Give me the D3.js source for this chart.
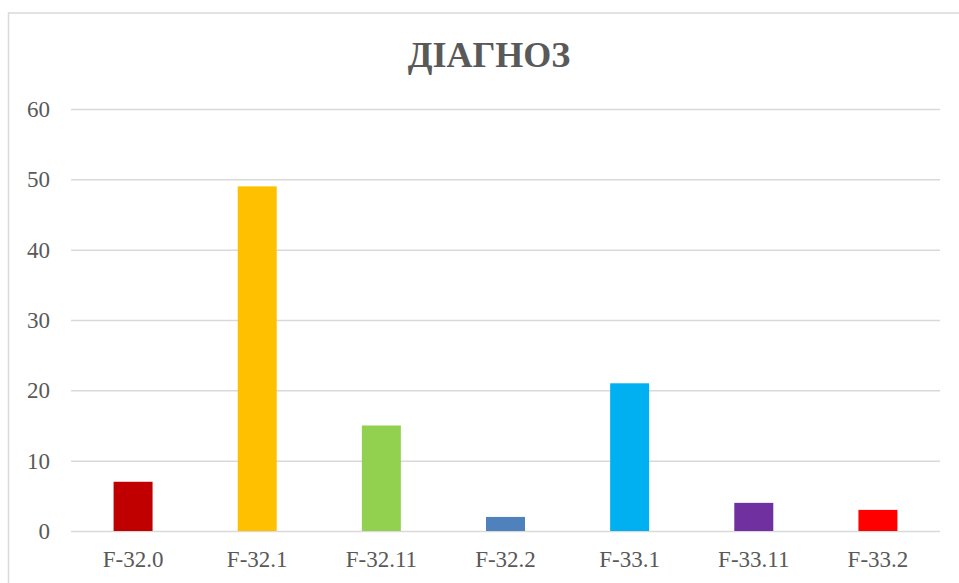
<!DOCTYPE html>
<html><head><meta charset="utf-8">
<script src="https://cdn.jsdelivr.net/npm/d3@7"></script>
<style>html,body{margin:0;padding:0;background:#fff;overflow:hidden}
svg text{font-family:"Liberation Serif","Times New Roman",Times,serif !important;}</style>
</head><body><svg id="c" width="959" height="583"></svg>
<script>
const title = "ДІАГНОЗ";
const categories = ["F-32.0","F-32.1","F-32.11","F-32.2","F-33.1","F-33.11","F-33.2"];
const values = [7,49,15,2,21,4,3];
const colors = ["#C00000","#FFC000","#92D050","#4F81BD","#00B0F0","#7030A0","#FF0000"];
const yTicks = [0,10,20,30,40,50,60];

const svg = d3.select("#c");
svg.append("rect").attr("x",8.5).attr("y",13).attr("width",1000).attr("height",700)
  .attr("fill","#fff").attr("stroke","#d9d9d9").attr("stroke-width",1.5);

const L=71, R=940, T=109, B=531;
const x = d3.scaleBand().domain(categories).range([L,R]).paddingInner(0.686).paddingOuter(0.343);
const y = d3.scaleLinear().domain([0,60]).range([B,T]);

const ya = svg.append("g").attr("transform",`translate(${L},0)`)
  .call(d3.axisLeft(y).tickValues(yTicks).tickSize(-(R-L)).tickPadding(21));
ya.attr("font-family",null);
ya.select(".domain").remove();
ya.selectAll(".tick line").attr("stroke","#d9d9d9").attr("stroke-width",1.5);
ya.selectAll("text").attr("font-size",23).attr("fill","#595959");

svg.append("g").selectAll("rect").data(values).join("rect")
  .attr("x",(d,i)=>x(categories[i])).attr("width",x.bandwidth())
  .attr("y",d=>y(d)).attr("height",d=>B-y(d)).attr("fill",(d,i)=>colors[i]);

const xa = svg.append("g").attr("transform",`translate(0,${B})`)
  .call(d3.axisBottom(x).tickSize(0).tickPadding(20));
xa.attr("font-family",null);
xa.select(".domain").remove();
xa.selectAll("text").attr("font-size",23).attr("fill","#595959");

svg.append("text").attr("x",489).attr("y",67).attr("text-anchor","middle")
  .attr("font-size",36).attr("font-weight","bold")
  .attr("fill","#595959").text(title);
</script></body></html>
